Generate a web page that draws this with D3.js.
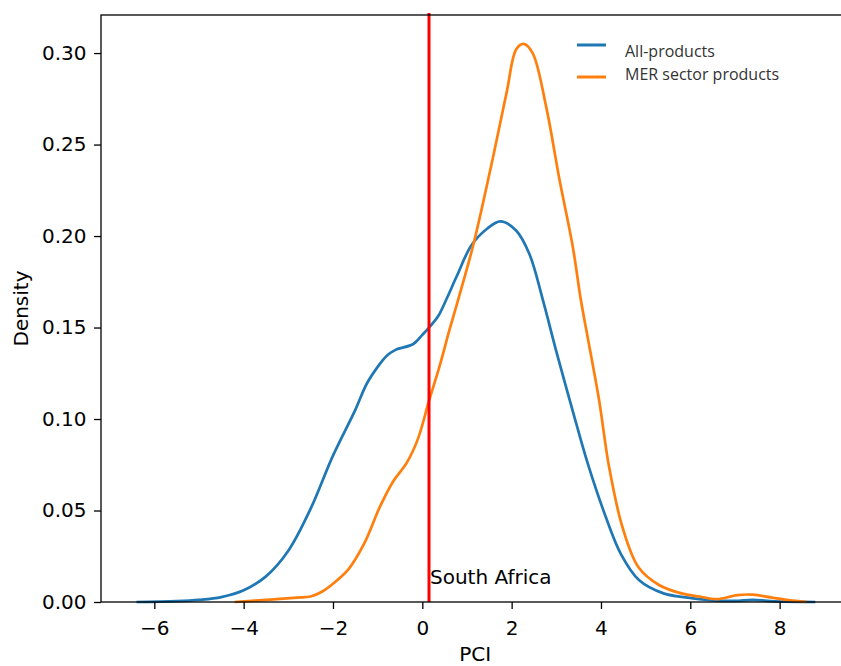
<!DOCTYPE html>
<html>
<head>
<meta charset="utf-8">
<script src="https://cdn.jsdelivr.net/npm/d3@7"></script>
<style>
  body { margin: 0; background: #fff; }
  svg { display: block; }
</style>
</head>
<body>
<div id="chart"></div>
<script>
// DATA
const allX = [-6.4, -5.5, -5.0, -4.5, -4.0, -3.5, -3.0, -2.5, -2.0, -1.5, -1.25, -1.0, -0.8, -0.6, -0.2, 0.0, 0.15, 0.35, 0.55, 0.77, 1.1, 1.45, 1.75, 2.1, 2.4, 2.7, 3.0, 3.35, 3.7, 4.1, 4.45, 4.85, 5.4, 5.95, 6.5, 7.0, 7.4, 7.8, 8.8]
const allY = [0, 0.0005, 0.0012, 0.0027, 0.0064, 0.014, 0.028, 0.051, 0.080, 0.105, 0.119, 0.1285, 0.1345, 0.1378, 0.141, 0.146, 0.150, 0.156, 0.166, 0.178, 0.195, 0.204, 0.208, 0.203, 0.190, 0.165, 0.137, 0.106, 0.076, 0.047, 0.026, 0.012, 0.0047, 0.0024, 0.0009, 0.0006, 0.0012, 0.0005, 0]

const merX = [-4.2, -3.4, -2.8, -2.5, -2.25, -2.0, -1.65, -1.3, -0.95, -0.65, -0.35, -0.1, 0.15, 0.4, 0.6, 0.8, 1.15, 1.6, 1.9, 2.1, 2.27, 2.47, 2.77, 3.07, 3.37, 3.55, 3.7, 3.96, 4.18, 4.48, 4.84, 5.3, 5.8, 6.2, 6.6, 7.05, 7.4, 7.8, 8.2, 8.6]
const merY = [0, 0.0013, 0.0024, 0.003, 0.0056, 0.010, 0.018, 0.032, 0.052, 0.066, 0.076, 0.089, 0.110, 0.130, 0.148, 0.165, 0.196, 0.245, 0.280, 0.302, 0.305, 0.300, 0.271, 0.231, 0.194, 0.165, 0.145, 0.110, 0.074, 0.041, 0.019, 0.0093, 0.0047, 0.003, 0.0016, 0.0038, 0.004, 0.0025, 0.001, 0]

const seriesNames = ["All-products", "MER sector products"]
const seriesColors = ["#1f77b4", "#ff7f0e"]
const xTicks = [-6, -4, -2, 0, 2, 4, 6, 8]
const yTicks = [0, 0.05, 0.10, 0.15, 0.20, 0.25, 0.30]
const southAfricaPCI = 0.15

const width = 841, height = 666
const plotLeft = 101, plotTop = 15, plotBottom = 602, plotRight = 849.3

// SCALES
const xScale = d3.scaleLinear().domain([-7.194, 9.56]).range([plotLeft, plotRight])
const yScale = d3.scaleLinear().domain([0, 0.3208]).range([plotBottom, plotTop])

const svg = d3.select("#chart").append("svg")
    .attr("width", width)
    .attr("height", height)

// CURVES
const line = d3.line()
    .x(d => xScale(d[0]))
    .y(d => yScale(d[1]))
    .curve(d3.curveCatmullRom.alpha(0.5))

const series = [d3.zip(allX, allY), d3.zip(merX, merY)]

svg.append("g")
    .selectAll("path")
    .data(series)
    .join("path")
    .attr("d", line)
    .attr("fill", "none")
    .attr("stroke", (d, i) => seriesColors[i])
    .attr("stroke-width", 2.7)
    .attr("stroke-linejoin", "round")

// RED LINE + LABEL
svg.append("line")
    .attr("x1", xScale(southAfricaPCI))
    .attr("x2", xScale(southAfricaPCI))
    .attr("y1", plotTop - 2)
    .attr("y2", plotBottom)
    .attr("stroke", "red")
    .attr("stroke-width", 3)

svg.append("text")
    .attr("x", xScale(southAfricaPCI) + 1)
    .attr("y", 584)
    .attr("font-family", "DejaVu Sans")
    .attr("font-size", 20)
    .attr("fill", "#000")
    .text("South Africa")

// AXES
const xAxis = svg.append("g")
    .attr("transform", `translate(0, ${plotBottom})`)
    .call(d3.axisBottom(xScale).tickValues(xTicks).tickSize(7).tickPadding(12)
        .tickFormat(d => d < 0 ? "\u2212" + Math.abs(d) : d))
xAxis.selectAll("text").attr("font-family", "DejaVu Sans").attr("font-size", 20).attr("fill", "#000")

const yAxis = svg.append("g")
    .attr("transform", `translate(${plotLeft}, 0)`)
    .call(d3.axisLeft(yScale).tickValues(yTicks).tickSize(7).tickPadding(7.5)
        .tickFormat(d3.format(".2f")))
yAxis.selectAll("text").attr("font-family", "DejaVu Sans").attr("font-size", 20).attr("fill", "#000")

svg.selectAll(".domain").remove()
svg.selectAll(".tick line").attr("stroke", "#000").attr("stroke-width", 1.3)

// SPINES
svg.append("rect")
    .attr("x", plotLeft)
    .attr("y", plotTop)
    .attr("width", plotRight - plotLeft)
    .attr("height", plotBottom - plotTop)
    .attr("fill", "none")
    .attr("stroke", "#000")
    .attr("stroke-width", 1.3)

// AXIS LABELS
svg.append("text")
    .attr("x", (plotLeft + plotRight) / 2)
    .attr("y", 661)
    .attr("text-anchor", "middle")
    .attr("font-family", "DejaVu Sans")
    .attr("font-size", 20)
    .text("PCI")

svg.append("text")
    .attr("transform", `translate(28, ${(plotTop + plotBottom) / 2}) rotate(-90)`)
    .attr("text-anchor", "middle")
    .attr("font-family", "DejaVu Sans")
    .attr("font-size", 20)
    .text("Density")

// LEGEND
const legend = svg.append("g")
const legendY = [45, 77]
const textY = [56.5, 80]
legend.selectAll("line")
    .data(seriesNames)
    .join("line")
    .attr("x1", 577)
    .attr("x2", 606)
    .attr("y1", (d, i) => legendY[i])
    .attr("y2", (d, i) => legendY[i])
    .attr("stroke", (d, i) => seriesColors[i])
    .attr("stroke-width", 3)
legend.selectAll("text")
    .data(seriesNames)
    .join("text")
    .attr("x", 625)
    .attr("y", (d, i) => textY[i])
    .attr("font-family", "Open Sans")
    .attr("font-size", 16)
    .attr("fill", "#333")
    .text(d => d)
</script>
</body>
</html>
